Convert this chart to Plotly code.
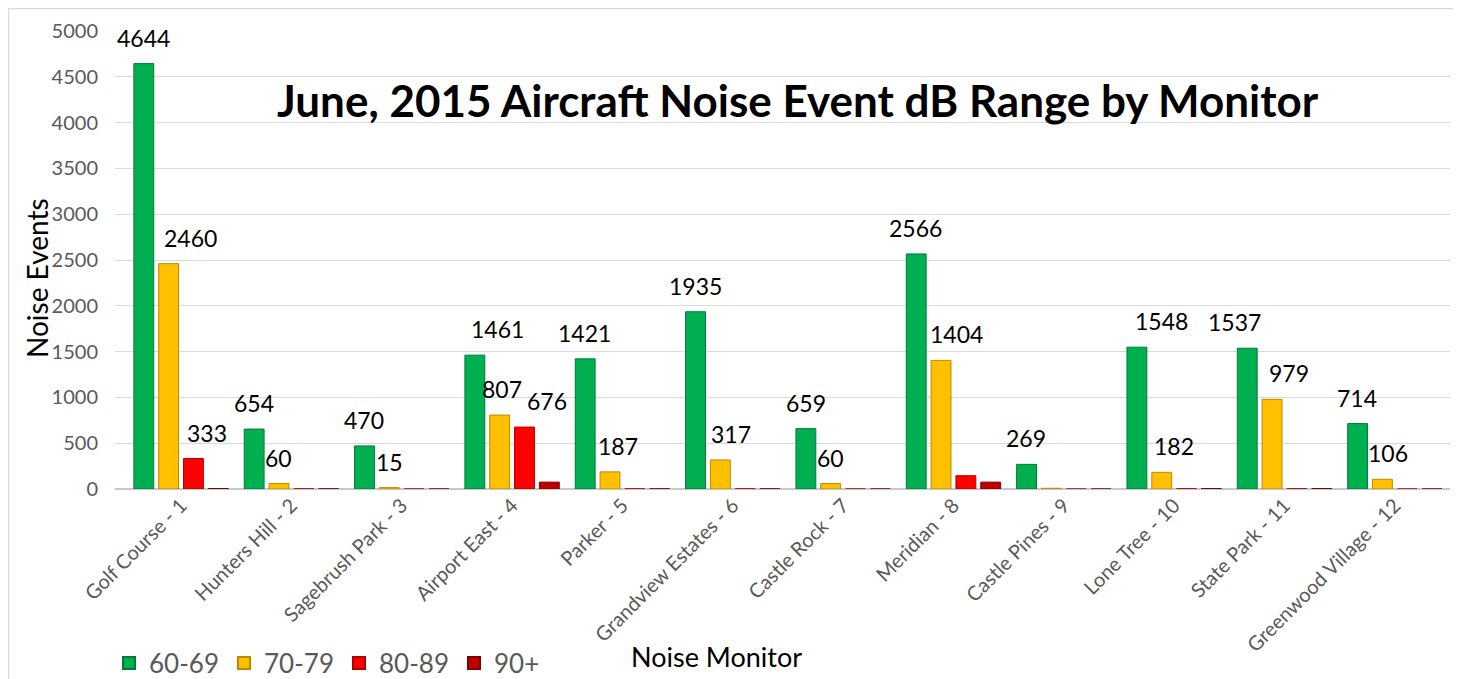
import plotly.graph_objects as go

monitors = ["Golf Course - 1", "Hunters Hill - 2", "Sagebrush Park - 3", "Airport East - 4",
            "Parker - 5", "Grandview Estates - 6", "Castle Rock - 7", "Meridian - 8",
            "Castle Pines - 9", "Lone Tree - 10", "State Park - 11", "Greenwood Village - 12"]
db_60_69 = [4644, 654, 470, 1461, 1421, 1935, 659, 2566, 269, 1548, 1537, 714]
db_70_79 = [2460, 60, 15, 807, 187, 317, 60, 1404, 8, 182, 979, 106]
db_80_89 = [333, 2, 0, 676, 2, 2, 0, 145, 0, 3, 3, 0]
db_90_plus = [5, 2, 0, 75, 2, 2, 0, 75, 0, 5, 5, 0]

# which values carry a data label (index lists per series)
labeled_60_69 = list(range(12))
labeled_70_79 = [0, 1, 2, 3, 4, 5, 6, 7, 9, 10, 11]
labeled_80_89 = [0, 3]
labeled_90_plus = []

series = [
    ("60-69", db_60_69, labeled_60_69, "#00b050", "#007a38"),
    ("70-79", db_70_79, labeled_70_79, "#ffc000", "#b88a00"),
    ("80-89", db_80_89, labeled_80_89, "#ff0000", "#b30000"),
    ("90+", db_90_plus, labeled_90_plus, "#c00000", "#800000"),
]

# label nudges (px) to mimic the original's label placement
nudge = {(1, 0): 22, (0, 3): 23, (2, 0): 13, (2, 3): 22, (1, 3): 2, (1, 4): 8, (1, 5): 11,
         (1, 7): 16, (0, 9): 25, (1, 9): 12, (0, 10): -12, (1, 10): 17, (1, 11): 6}

W, H = 1461, 679
OFF = 8  # page offset of the figure inside the browser window
ML, MR, MT, MB = 107, 19, 23, 198
PW = W - ML - MR
PH = H - MT - MB
cat_w = PW / len(monitors)
bargap = 0.1
bar_slot = cat_w * (1 - bargap) / 4
FONT = "Lato, Open Sans, sans-serif"


def px_x(sx):
    return (sx - OFF - ML) / PW


def px_y(sy):
    return (H - MB - (sy - OFF)) / PH


fig = go.Figure()
annotations = []
for i, (name, vals, labeled, col, edge) in enumerate(series):
    fig.add_trace(go.Bar(
        name=name, x=monitors, y=vals,
        marker=dict(color=col, line=dict(color=edge, width=1)),
    ))
    for j in labeled:
        annotations.append(dict(
            x=monitors[j], y=vals[j], xref="x", yref="y",
            text=str(vals[j]), showarrow=False,
            xshift=(i - 1.5) * bar_slot + nudge.get((i, j), 0), yshift=26,
            font=dict(family=FONT, size=23, color="#000000"),
        ))

annotations.append(dict(
    text="June, 2015 Aircraft Noise Event dB Range by Monitor",
    xref="paper", yref="paper", x=px_x(798), y=px_y(100),
    xanchor="center", yanchor="middle", showarrow=False,
    font=dict(family=FONT, size=44, color="#000000", weight="bold"),
))
annotations.append(dict(
    text="Noise Events", xref="paper", yref="paper",
    x=px_x(37), y=px_y(278), textangle=-90,
    xanchor="center", yanchor="middle", showarrow=False,
    font=dict(family=FONT, size=28, color="#000000"),
))
annotations.append(dict(
    text="Noise Monitor", xref="paper", yref="paper",
    x=px_x(716), y=px_y(656),
    xanchor="center", yanchor="middle", showarrow=False,
    font=dict(family=FONT, size=27, color="#000000"),
))

fig.update_layout(
    width=W, height=H,
    margin=dict(l=ML, r=MR, t=MT, b=MB, autoexpand=False),
    paper_bgcolor="white", plot_bgcolor="white",
    barmode="group", bargap=bargap, bargroupgap=0.2,
    annotations=annotations,
    font=dict(family=FONT),
    legend=dict(
        orientation="h", xref="container", yref="container",
        x=101 / W, y=1 - (663 - OFF) / H,
        xanchor="left", yanchor="middle",
        font=dict(size=26, color="#595959"),
        entrywidth=70, entrywidthmode="pixels", itemsizing="constant",
    ),
    shapes=[dict(
        type="rect", xref="paper", yref="paper",
        x0=px_x(OFF + 0.5), x1=px_x(1455),
        y0=px_y(720), y1=px_y(OFF + 0.5),
        line=dict(color="#d9d9d9", width=1.5), fillcolor="rgba(0,0,0,0)", layer="below",
    )],
)
fig.update_xaxes(
    tickangle=-45, tickfont=dict(size=20, color="#595959"),
    showgrid=False, showline=False, ticks="", automargin=False,
)
fig.update_yaxes(
    range=[0, 5000], dtick=500, tickfont=dict(size=20, color="#595959"),
    gridcolor="#d9d9d9", gridwidth=1, zeroline=True, zerolinecolor="#c8c8c8", zerolinewidth=2,
    ticklabelstandoff=16, showline=False, automargin=False,
)

fig.write_html("out.html")
